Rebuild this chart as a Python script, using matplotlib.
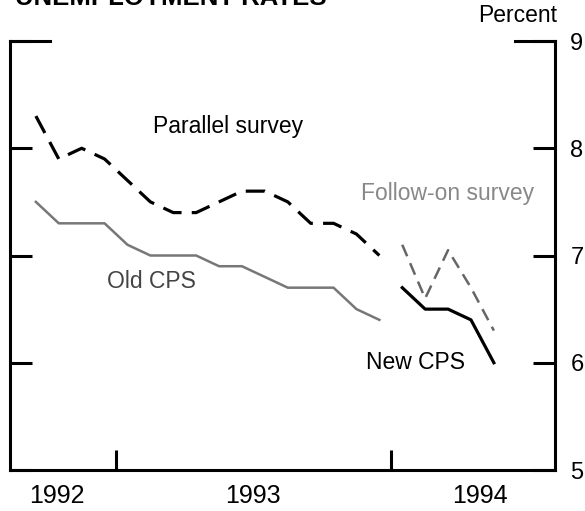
import matplotlib.pyplot as plt
import pandas as pd

plt.rcParams['font.family'] = ['Liberation Sans', 'DejaVu Sans']

# monthly data, plotted at mid-month
months_9293 = pd.period_range('1992-09', '1993-12', freq='M')
months_94 = pd.period_range('1994-01', '1994-05', freq='M')

parallel = [8.3, 7.9, 8.0, 7.9, 7.7, 7.5, 7.4, 7.4, 7.5, 7.6, 7.6, 7.5, 7.3, 7.3, 7.2, 7.0]
old_cps = [7.5, 7.3, 7.3, 7.3, 7.1, 7.0, 7.0, 7.0, 6.9, 6.9, 6.8, 6.7, 6.7, 6.7, 6.5, 6.4]
follow_on = [7.1, 6.6, 7.05, 6.7, 6.3]
new_cps = [6.7, 6.5, 6.5, 6.4, 6.0]

years = ['1992', '1993', '1994']
yticks = [5, 6, 7, 8, 9]


def month_pos(periods):
    return [(p.year - 1992) * 12 + p.month - 0.5 for p in periods]


x_a = month_pos(months_9293)
x_b = month_pos(months_94)

fig = plt.figure(figsize=(5.85, 5.11), dpi=100)
ax = fig.add_axes([10 / 585, 1 - 470 / 511, 545 / 585, 429 / 511])

ax.plot(x_a, parallel, color='k', lw=2.3, dashes=(6, 3.2), dash_capstyle='butt')
ax.plot(x_a, old_cps, color='#777777', lw=1.8)
ax.plot(x_b, follow_on, color='#666666', lw=1.8, dashes=(5, 3), dash_capstyle='butt')
ax.plot(x_b, new_cps, color='k', lw=2.3)

ax.set_xlim(7.37, 31.17)
ax.set_ylim(5, 9)

ax.spines['top'].set_visible(False)
for s in ['left', 'right', 'bottom']:
    ax.spines[s].set_linewidth(2.2)

ax.set_yticks(yticks)
ax.set_yticklabels([str(v) for v in yticks])
ax.tick_params(axis='y', direction='in', length=16, width=2.2, left=True,
               right=True, labelleft=False, labelright=True, labelsize=17, pad=11)

# longer marks at the top corners
ax.axhline(9, xmin=0, xmax=40 / 545, color='k', lw=2.2, clip_on=False)
ax.axhline(9, xmin=1 - 40 / 545, xmax=1, color='k', lw=2.2, clip_on=False)

ax.set_xticks([12, 24])
ax.set_xticklabels([])
ax.set_xticks([9.4, 18, 27.9], minor=True)
ax.set_xticklabels(years, minor=True)
ax.tick_params(axis='x', which='major', direction='in', length=14.4, width=2.2)
ax.tick_params(axis='x', which='minor', length=0, labelsize=18, pad=10)

ax.text(13.6, 8.2, 'Parallel survey', fontsize=16.5, va='center')
ax.text(22.7, 7.58, 'Follow-on survey', fontsize=16.5, va='center', color='#888888')
ax.text(11.6, 6.76, 'Old CPS', fontsize=16.5, va='center', color='#444444')
ax.text(22.9, 6.0, 'New CPS', fontsize=16.5, va='center')

fig.text(557 / 585, 1 - 15 / 511, 'Percent', ha='right', va='center', fontsize=16.5)
fig.text(15 / 585, 1 - 5 / 511, 'UNEMPLOYMENT RATES', fontsize=18.5,
         fontweight='bold', va='baseline')

fig.savefig('out.png', dpi=100)
